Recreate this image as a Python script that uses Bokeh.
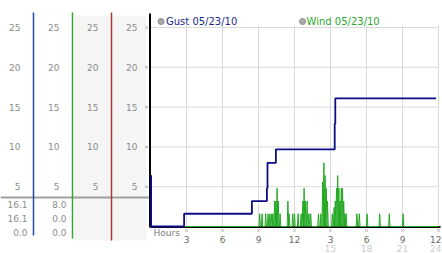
from bokeh.plotting import figure
from bokeh.models import Range1d
from bokeh.embed import file_html
from bokeh.resources import INLINE
from bokeh.core.properties import value

# ---------------- data ----------------
gust_hours = [0.0, 0.05, 2.8, 8.45, 9.7, 9.75, 10.45, 15.35, 15.4, 23.8]
gust_speed = [6.4, 0.0, 1.6, 3.2, 4.8, 8.0, 9.7, 12.9, 16.1, 16.1]

wind_spike_hours = [9.1, 9.3, 9.6, 9.8, 9.95, 10.1, 10.2, 10.35, 10.45, 10.55, 10.65, 10.8,
                    11.45, 11.55, 11.85, 12.0, 12.3, 12.55, 12.7, 12.8, 12.9, 13.05, 13.2,
                    13.35, 14.0, 14.2, 14.35, 14.45, 14.55, 14.65, 14.75, 15.15, 15.3, 15.4,
                    15.5, 15.6, 15.7, 15.8, 15.9, 16.0, 16.1, 16.2, 16.3, 17.2, 17.4, 18.05,
                    19.1, 19.9, 21.05]
wind_spike_speed = [1.6, 1.6, 1.6, 1.6, 1.6, 1.6, 1.6, 3.2, 3.2, 4.8, 3.2, 1.6,
                    3.2, 1.6, 1.6, 1.6, 1.6, 1.6, 3.2, 4.8, 3.2, 3.2, 1.6,
                    1.6, 1.6, 1.6, 5.6, 8.0, 6.4, 4.8, 3.2, 1.6, 2.4, 3.2,
                    4.8, 6.4, 4.8, 3.2, 4.8, 4.8, 3.2, 1.6, 1.6, 1.6, 1.6, 1.6,
                    1.6, 1.6, 1.6]

y_ticks = [5, 10, 15, 20, 25]
y_tick_labels = ["5", "10", "15", "20", "25"]
x_ticks = [3, 6, 9, 12, 15, 18, 21, 24]
x_tick_labels = ["3", "6", "9", "12", "3", "6", "9", "12"]
x_tick_labels_24 = ["", "", "", "", "15", "18", "21", "24"]
gust_stats = ["16.1", "16.1", "0.0"]
wind_stats = ["8.0", "0.0", "0.0"]
legend_labels = ["Gust 05/23/10", "Wind 05/23/10"]
x_axis_title = "Hours"

# ------------- layout helpers (pixel -> data) -------------
W, H = 442, 253
X0PX, PXH = 150.0, 12.0       # pixel of hour 0, pixels per hour
Y0PX, PXV = 226.0, 7.96       # pixel of speed 0, pixels per unit


def hx(px):
    return (px - X0PX) / PXH


def vy(py):
    return (Y0PX - py) / PXV


p = figure(width=W, height=H, output_backend="svg", toolbar_location=None,
           x_range=Range1d(hx(0), hx(W)), y_range=Range1d(vy(H), vy(0)),
           min_border=0, outline_line_color=None)
p.axis.visible = False
p.grid.visible = False
p.background_fill_color = "white"
p.border_fill_color = "white"

FONT = value("DejaVu Sans")

# ------------- left panel -------------
p.quad(left=hx(74), right=hx(146), bottom=vy(240), top=vy(15),
       fill_color="#f5f5f5", line_color=None)
p.segment(x0=hx(0), x1=hx(149), y0=vy(197), y1=vy(197), line_color="#a0a0a0", line_width=2)
p.segment(x0=[hx(33), hx(72), hx(111)], x1=[hx(33), hx(72), hx(111)],
          y0=[vy(12), vy(12), vy(12)], y1=[vy(235), vy(238), vy(240)],
          line_color=["#2a45a5", "#35a535", "#b03535"], line_width=1.5)

col_right = [20, 59, 98, 137]
tx, ty, tt = [], [], []
for c in col_right:
    for v, lab in zip(y_ticks, y_tick_labels):
        tx.append(hx(c))
        ty.append(v)
        tt.append(lab)
p.text(x=tx, y=ty, text=tt, text_font=FONT, text_font_size="9px",
       text_color="#8c8c8c", text_align="right", text_baseline="middle")

stat_rows = [vy(204), vy(218), vy(232)]
p.text(x=[hx(27)] * 3, y=stat_rows, text=gust_stats, text_font=FONT, text_font_size="9px",
       text_color="#8c8c8c", text_align="right", text_baseline="middle")
p.text(x=[hx(66)] * 3, y=stat_rows, text=wind_stats, text_font=FONT, text_font_size="9px",
       text_color="#8c8c8c", text_align="right", text_baseline="middle")

# ------------- chart grid -------------
p.segment(x0=0, x1=24, y0=y_ticks, y1=y_ticks, line_color="#dadada", line_width=1)
p.segment(x0=x_ticks, x1=x_ticks, y0=0, y1=25.3, line_color="#dadada", line_width=1)

# tick marks
p.scatter(x=[hx(146)] * len(y_ticks), y=y_ticks, marker="x", size=3,
          line_color="#9a9a9a", line_width=1)
p.scatter(x=x_ticks, y=[vy(230)] * len(x_ticks), marker="x", size=3,
          line_color="#9a9a9a", line_width=1)

# ------------- series -------------
wx, wy = [0.0], [0.0]
for t, s in zip(wind_spike_hours, wind_spike_speed):
    wx += [t - 0.06, t, t + 0.06]
    wy += [0.0, s, 0.0]
wx.append(24.0)
wy.append(0.0)

# axes lines
p.segment(x0=0, x1=hx(440), y0=vy(226.5), y1=vy(226.5), line_color="black", line_width=2)
p.segment(x0=hx(149.5), x1=hx(149.5), y0=vy(13), y1=vy(227), line_color="black", line_width=2)

p.line(wx, wy, line_color="#22a822", line_width=1)
p.step(gust_hours, gust_speed, mode="after", line_color="#0c0c85", line_width=1.8)

# ------------- legend -------------
p.scatter(x=[hx(160.5), hx(302)], y=[vy(21), vy(21)], marker="circle", size=6,
          fill_color="#a8a8a8", line_color="#909090")
p.text(x=[hx(165.5), hx(306)], y=[vy(21), vy(21)], text=legend_labels, text_font=FONT,
       text_font_size="10px", text_color=["#1a2a8c", "#2aa82a"], text_align="left",
       text_baseline="middle")

# ------------- x axis labels -------------
p.text(x=[hx(153)], y=[vy(232)], text=[x_axis_title], text_font=FONT, text_font_size="9px",
       text_color="#7a7a7a", text_align="left", text_baseline="middle")
p.text(x=x_ticks[:-1], y=[vy(239)] * (len(x_ticks) - 1), text=x_tick_labels[:-1], text_font=FONT,
       text_font_size="9px", text_color="#6a6a6a", text_align="center", text_baseline="middle")
p.text(x=x_ticks[:-1], y=[vy(248)] * (len(x_ticks) - 1), text=x_tick_labels_24[:-1], text_font=FONT,
       text_font_size="9px", text_color="#cccccc", text_align="center", text_baseline="middle")
# last tick labels kept inside the window
p.text(x=[hx(441)], y=[vy(239)], text=x_tick_labels[-1:], text_font=FONT,
       text_font_size="9px", text_color="#6a6a6a", text_align="right", text_baseline="middle")
p.text(x=[hx(441)], y=[vy(248)], text=x_tick_labels_24[-1:], text_font=FONT,
       text_font_size="9px", text_color="#cccccc", text_align="right", text_baseline="middle")

open("out.html", "w").write(file_html(p, INLINE))
